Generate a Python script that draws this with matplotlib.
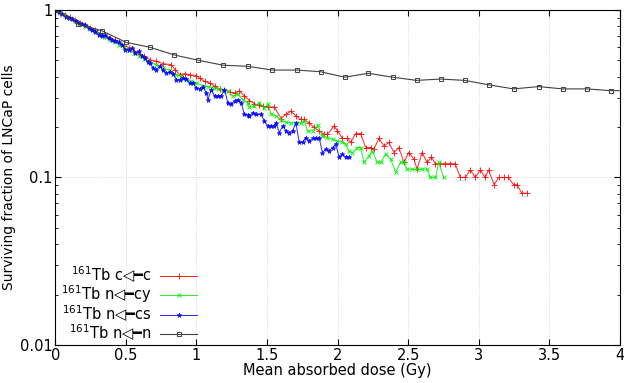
import matplotlib
matplotlib.use("Agg")
import matplotlib.pyplot as plt
from matplotlib.ticker import FixedLocator, FixedFormatter, LogLocator, NullFormatter

# ---- data ----
red_x = [0.00, 0.035, 0.07, 0.105, 0.14, 0.175, 0.21, 0.245, 0.28, 0.315, 0.35, 0.385, 0.42, 0.455,
         0.49, 0.525, 0.56, 0.595, 0.63, 0.670, 0.717, 0.764, 0.823, 0.847, 0.882, 0.917, 0.952, 1.0,
         1.023, 1.058, 1.093, 1.129, 1.164, 1.199, 1.235, 1.270, 1.305, 1.340, 1.376, 1.41, 1.44,
         1.47, 1.505, 1.552, 1.599, 1.634, 1.670, 1.705, 1.740, 1.764, 1.799, 1.834, 1.869, 1.905,
         1.928, 1.975, 1.999, 2.034, 2.069, 2.093, 2.128, 2.163, 2.199, 2.234, 2.257, 2.293, 2.328,
         2.363, 2.399, 2.434, 2.469, 2.504, 2.540, 2.563, 2.598, 2.634, 2.664, 2.692, 2.727, 2.763,
         2.798, 2.833, 2.869, 2.904, 2.940, 2.975, 3.010, 3.046, 3.069, 3.109, 3.140, 3.175, 3.210,
         3.246, 3.270, 3.305, 3.340]
red_y = [1.000, 0.965, 0.935, 0.905, 0.872, 0.842, 0.812, 0.785, 0.757, 0.730, 0.703, 0.680, 0.660,
         0.636, 0.612, 0.596, 0.572, 0.548, 0.530, 0.505, 0.493, 0.478, 0.472, 0.441, 0.411, 0.417,
         0.411, 0.406, 0.393, 0.375, 0.367, 0.351, 0.338, 0.335, 0.323, 0.320, 0.328, 0.306, 0.288,
         0.276, 0.270, 0.266, 0.264, 0.264, 0.225, 0.238, 0.249, 0.233, 0.222, 0.222, 0.211, 0.199,
         0.190, 0.181, 0.181, 0.203, 0.190, 0.171, 0.171, 0.162, 0.183, 0.183, 0.151, 0.151, 0.148,
         0.171, 0.154, 0.162, 0.141, 0.151, 0.123, 0.141, 0.129, 0.112, 0.141, 0.123, 0.132, 0.121,
         0.121, 0.121, 0.121, 0.121, 0.100, 0.100, 0.111, 0.100, 0.111, 0.100, 0.111, 0.0906, 0.100,
         0.100, 0.100, 0.0906, 0.0906, 0.0805, 0.0805]

green_x = [0.00, 0.035, 0.07, 0.105, 0.14, 0.175, 0.21, 0.245, 0.28, 0.315, 0.35, 0.385, 0.42, 0.455,
           0.49, 0.525, 0.56, 0.595, 0.63, 0.670, 0.717, 0.764, 0.811, 0.858, 0.893, 0.929, 0.964,
           0.999, 1.046, 1.082, 1.117, 1.152, 1.187, 1.223, 1.258, 1.293, 1.329, 1.364, 1.376, 1.411,
           1.446, 1.482, 1.505, 1.529, 1.564, 1.599, 1.634, 1.670, 1.705, 1.740, 1.764, 1.787, 1.823,
           1.858, 1.893, 1.928, 1.964, 1.999, 2.034, 2.057, 2.081, 2.105, 2.140, 2.163, 2.187, 2.222,
           2.246, 2.281, 2.305, 2.340, 2.375, 2.411, 2.446, 2.469, 2.493, 2.528, 2.563, 2.599, 2.634,
           2.657, 2.693, 2.716, 2.751]
green_y = [1.000, 0.962, 0.930, 0.895, 0.862, 0.830, 0.800, 0.772, 0.745, 0.715, 0.690, 0.665, 0.645,
           0.620, 0.598, 0.575, 0.555, 0.535, 0.512, 0.487, 0.472, 0.451, 0.436, 0.411, 0.402, 0.384,
           0.375, 0.367, 0.354, 0.348, 0.343, 0.338, 0.335, 0.328, 0.306, 0.313, 0.292, 0.279, 0.262,
           0.267, 0.279, 0.261, 0.273, 0.241, 0.233, 0.220, 0.214, 0.212, 0.212, 0.212, 0.217, 0.190,
           0.190, 0.205, 0.177, 0.173, 0.169, 0.165, 0.162, 0.158, 0.144, 0.141, 0.151, 0.151, 0.123,
           0.135, 0.144, 0.123, 0.123, 0.138, 0.129, 0.108, 0.123, 0.123, 0.112, 0.112, 0.112, 0.112,
           0.112, 0.100, 0.100, 0.123, 0.100]

blue_x = [0.00, 0.024, 0.048, 0.073, 0.097, 0.12, 0.144, 0.167, 0.19, 0.214, 0.238, 0.261, 0.285,
          0.308, 0.332, 0.355, 0.379, 0.402, 0.426, 0.449, 0.473, 0.496, 0.520, 0.543, 0.567, 0.590,
          0.614, 0.637, 0.655, 0.670, 0.694, 0.717, 0.741, 0.764, 0.788, 0.811, 0.835, 0.858, 0.882,
          0.905, 0.929, 0.952, 0.976, 0.999, 1.023, 1.046, 1.070, 1.082, 1.105, 1.129, 1.152, 1.176,
          1.199, 1.223, 1.246, 1.270, 1.293, 1.317, 1.340, 1.364, 1.376, 1.399, 1.423, 1.458, 1.482,
          1.505, 1.529, 1.552, 1.564, 1.587, 1.611, 1.634, 1.658, 1.681, 1.705, 1.728, 1.752, 1.775,
          1.799, 1.823, 1.846, 1.870, 1.893, 1.917, 1.940, 1.964, 1.987, 2.011, 2.034, 2.057, 2.081]
blue_y = [1.000, 0.975, 0.945, 0.913, 0.900, 0.884, 0.860, 0.833, 0.825, 0.815, 0.785, 0.761, 0.744,
          0.711, 0.695, 0.705, 0.679, 0.664, 0.649, 0.643, 0.620, 0.579, 0.579, 0.592, 0.553, 0.566,
          0.530, 0.515, 0.490, 0.482, 0.451, 0.441, 0.461, 0.436, 0.421, 0.425, 0.417, 0.384, 0.381,
          0.393, 0.388, 0.367, 0.367, 0.343, 0.338, 0.348, 0.320, 0.292, 0.335, 0.306, 0.306, 0.306,
          0.335, 0.279, 0.273, 0.286, 0.292, 0.279, 0.238, 0.236, 0.233, 0.244, 0.238, 0.238, 0.217,
          0.203, 0.203, 0.203, 0.212, 0.185, 0.203, 0.190, 0.185, 0.190, 0.212, 0.162, 0.162, 0.173,
          0.165, 0.171, 0.171, 0.171, 0.141, 0.148, 0.144, 0.151, 0.158, 0.132, 0.138, 0.132, 0.132]

grey_x = [0.00, 0.16, 0.33, 0.502, 0.672, 0.843, 1.013, 1.19, 1.365, 1.537, 1.709, 1.879, 2.05,
          2.218, 2.39, 2.56, 2.73, 2.90, 3.073, 3.246, 3.423, 3.594, 3.764, 3.936, 4.107]
grey_y = [1.000, 0.825, 0.752, 0.641, 0.599, 0.539, 0.501, 0.468, 0.461, 0.438, 0.438, 0.428, 0.397,
          0.419, 0.397, 0.380, 0.387, 0.380, 0.357, 0.338, 0.349, 0.338, 0.338, 0.330, 0.330]

labels = ["$^{161}$Tb c\u25c1\u2501c", "$^{161}$Tb n\u25c1\u2501cy",
          "$^{161}$Tb n\u25c1\u2501cs", "$^{161}$Tb n\u25c1\u2501n"]
x_ticks = [0, 0.5, 1, 1.5, 2, 2.5, 3, 3.5, 4]
x_tick_labels = ["0", "0.5", "1", "1.5", "2", "2.5", "3", "3.5", "4"]
y_ticks = [0.01, 0.1, 1]
y_tick_labels = ["0.01", "0.1", "1"]

plt.rcParams['font.family'] = ['DejaVu Sans']
fig = plt.figure(figsize=(6.24, 3.83), dpi=100)
ax = fig.add_axes([55.2 / 624, 1 - 345 / 383, (620 - 55.2) / 624, (345 - 10) / 383])

ax.plot(red_x, red_y, color='#ff0000', lw=0.7, marker='+', ms=4, mew=0.7, label=labels[0], alpha=0.85)
ax.plot(green_x, green_y, color='#00ee00', lw=0.7, marker='x', ms=3, mew=0.7, label=labels[1], alpha=0.85)
ax.plot(blue_x, blue_y, color='#0000ff', lw=0.7, marker='*', ms=3.5, mew=0.5, label=labels[2], alpha=0.85)
ax.plot(grey_x, grey_y, color='#404040', lw=0.8, marker='s', ms=3.5, mew=0.7, mfc='none', label=labels[3])

ax.set_yscale('log')
ax.set_xlim(0, 4)
ax.set_ylim(0.01, 1)
ax.xaxis.set_major_locator(FixedLocator(x_ticks))
ax.xaxis.set_major_formatter(FixedFormatter(x_tick_labels))
ax.yaxis.set_major_locator(FixedLocator(y_ticks))
ax.yaxis.set_major_formatter(FixedFormatter(y_tick_labels))
ax.yaxis.set_minor_locator(LogLocator(base=10, subs=range(2, 10)))
ax.yaxis.set_minor_formatter(NullFormatter())
ax.tick_params(which='both', direction='in', top=True, right=True, labelsize=10.5, pad=2)
ax.tick_params(which='major', length=4)
ax.tick_params(which='minor', length=2)
ax.grid(True, which='major', color='#cccccc', linestyle=':', linewidth=0.6)
for s in ax.spines.values():
    s.set_linewidth(0.8)

ax.set_xlabel("Mean absorbed dose (Gy)", fontsize=10.5, labelpad=0)
ax.set_ylabel("Surviving fraction of LNCaP cells", fontsize=10, labelpad=3)

leg = ax.legend(loc='lower left', frameon=False, markerfirst=False, fontsize=10.5,
                handlelength=2.5, handletextpad=0.6, numpoints=1, labelspacing=-0.12,
                borderaxespad=0.0, bbox_to_anchor=(0.0, -0.01))

fig.savefig("out.png", dpi=100)
